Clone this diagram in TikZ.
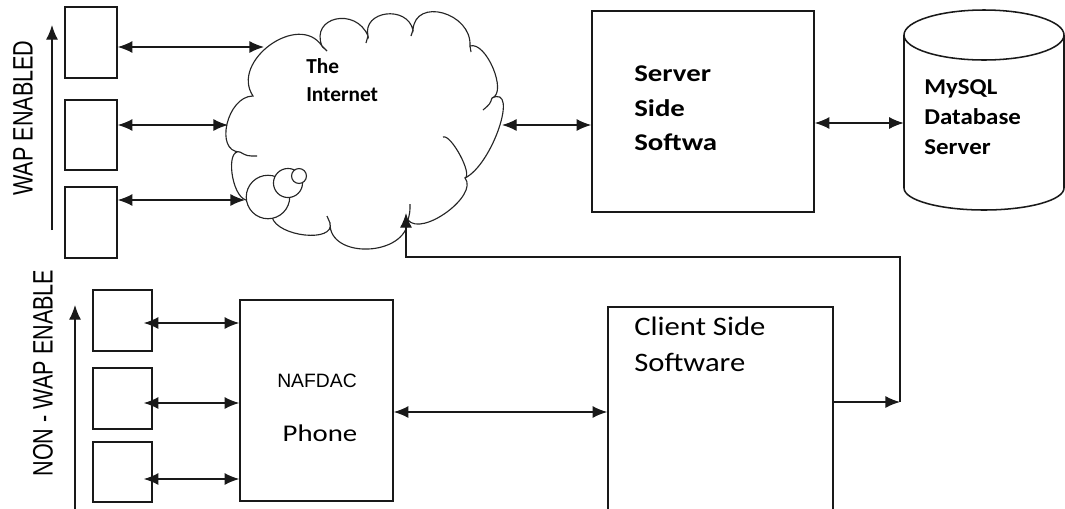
\documentclass[tikz,border=0pt]{standalone}
\usepackage{fontspec}
\newfontfamily\carl{Carlito}
\newfontfamily\arialf{Liberation Sans}
\usetikzlibrary{arrows.meta,calc}
\begin{document}
\begin{tikzpicture}[x=0.75pt,y=-0.75pt,
  box/.style={draw=black!90, line width=1.15pt, inner sep=0pt, fill=white},
  conn/.style={draw=black!90, line width=1pt},
  dbl/.style={conn, {Latex[length=11pt,width=9pt]}-{Latex[length=11pt,width=9pt]}},
  arr/.style={conn, -{Latex[length=11pt,width=9pt]}},
  cl/.style={draw=black!85, line width=0.85pt},
  lbl/.style={inner sep=0pt, align=left, anchor=west},
]
\useasboundingbox (0,0) rectangle (1065,508);

% ---------- cloud ----------
\draw[cl, fill=white] (253,96)
  .. controls (229.7,61.3) and (298.7,11.3) .. (322,46)
  .. controls (310,16.7) and (356,6.7) .. (368,36)
  .. controls (362,10.7) and (407,4.7) .. (413,30)
  .. controls (415,-3.3) and (472,12.7) .. (470,46)
  .. controls (486,40.7) and (508,92.7) .. (492,98)
  .. controls (519.3,84.7) and (492.3,164.7) .. (465,178)
  .. controls (479,195.3) and (422,237.3) .. (408,220)
  .. controls (406.7,256.7) and (328.7,259.7) .. (330,223)
  .. controls (335.3,243) and (277.3,237) .. (272,217)
  -- (246,200)
  .. controls (231.3,196) and (225.3,148) .. (240,152)
  .. controls (214,152) and (227,96) .. (253,96) -- cycle;
% interior strokes of the cloud
\draw[cl] (322,46) -- (327,51);
\draw[cl] (368,36) -- (366,43);
\draw[cl] (413,30) -- (411,36);
\draw[cl] (470,46) -- (471,52);
\draw[cl] (492,98) .. controls (490,104) .. (483,110);
\draw[cl] (443,137) .. controls (451,133.7) and (473,174.7) .. (465,178);
\draw[cl] (408,220) .. controls (410,212) .. (410,204);
\draw[cl] (330,223) -- (327,216);
\draw[cl] (240,152) .. controls (247,156) .. (257,156);
% bubbles
\draw[cl, fill=white] (268,197) circle[radius=16.3pt];
\draw[cl, fill=white] (288,183) circle[radius=10.9pt];
\draw[cl, fill=white] (299,176) circle[radius=5.6pt];

\node[lbl, font={\carl\bfseries\fontsize{16pt}{21pt}\selectfont}] (inet) at (306,80) {The\\Internet};

% cloud connection points
\coordinate (c1) at (264,47);
\coordinate (c2) at (228,125);
\coordinate (c3) at (245,200);
\coordinate (cR) at (502,125);
\coordinate (cB) at (406,213);

% ---------- WAP enabled ----------
\node[box, minimum width=39pt, minimum height=53.25pt] (w1) at (91,42.5) {};
\node[box, minimum width=39pt, minimum height=52.5pt] (w2) at (91,135) {};
\node[box, minimum width=39pt, minimum height=53.25pt] (w3) at (91,222.5) {};
\draw[dbl] (w1.east |- c1) -- (c1);
\draw[dbl] (w2.east |- c2) -- (c2);
\draw[dbl] (w3.east |- c3) -- (c3);
\coordinate (wa0) at (52,230);
\coordinate (wa1) at (52,25);
\draw[arr] (wa0) -- (wa1);
\node[inner sep=0pt, font={\arialf\fontsize{16.2pt}{19pt}\selectfont}, rotate=90, yscale=1.3] (wapl) at (23,118) {WAP ENABLED};

% ---------- server ----------
\node[box, minimum width=166.5pt, minimum height=150.75pt] (srv) at (703,111.5) {};
\node[lbl, font={\carl\bfseries\fontsize{18pt}{26pt}\selectfont}, xscale=1.2] (srvt) at (634,108.5) {Server\\Side\\Softwa};
\draw[dbl] (cR) -- (cR -| srv.west);

% ---------- database ----------
\draw[box] (904,35) -- (904,188) .. controls (904,200.2) and (939.8,210) .. (984,210)
  .. controls (1028.2,210) and (1064,200.2) .. (1064,188) -- (1064,35);
\draw[box] (984,35) ellipse[x radius=60pt, y radius=18.75pt];
\node[inner sep=0pt, minimum width=120pt, minimum height=100pt] (db) at (984,123) {};
\node[lbl, font={\carl\bfseries\fontsize{17pt}{22.5pt}\selectfont}, xscale=1.1] (dbt) at (924,117) {MySQL\\Database\\Server};
\draw[dbl] (srv.east |- db.west) -- (db.west);

% ---------- non-WAP ----------
\node[box, minimum width=44.25pt, minimum height=45.75pt] (n1) at (122.5,320.5) {};
\node[box, minimum width=44.25pt, minimum height=45.75pt] (n2) at (122.5,398.5) {};
\node[box, minimum width=44.25pt, minimum height=45pt] (n3) at (122.5,472) {};
\node[box, minimum width=114.75pt, minimum height=150.75pt] (ph) at (316.5,400.5) {};
\node[inner sep=0pt, font={\arialf\fontsize{14.5pt}{17pt}\selectfont}] (nafdac) at (317,381) {NAFDAC};
\node[inner sep=0pt, font={\carl\fontsize{18pt}{22pt}\selectfont}, xscale=1.2] (phone) at (320,433) {Phone};
\coordinate (ya) at (0,323);
\coordinate (yb) at (0,403);
\coordinate (yc) at (0,479);
\draw[dbl] ($(n1.east |- ya)+(-9,0)$) -- (ph.west |- ya);
\draw[dbl] ($(n2.east |- yb)+(-9,0)$) -- (ph.west |- yb);
\draw[dbl] ($(n3.east |- yc)+(-9,0)$) -- (ph.west |- yc);
\coordinate (na0) at (75,510);
\coordinate (na1) at (75,305);
\draw[arr] (na0) -- (na1);
\node[inner sep=0pt, font={\arialf\fontsize{16.2pt}{19pt}\selectfont}, rotate=90, yscale=1.3] (nwapl) at (43,373) {NON - WAP ENABLE};

% ---------- client ----------
\node[box, minimum width=168.75pt, minimum height=153.75pt] (cli) at (720.5,409.5) {};
\node[lbl, font={\carl\fontsize{20pt}{27pt}\selectfont}, xscale=1.15] (clit) at (634,344) {Client Side\\Software};
\coordinate (pc) at (0,412);
\draw[dbl] (ph.east |- pc) -- (cli.west |- pc);
\coordinate (r1) at (900,402);
\coordinate (r2) at (900,257);
\draw[arr] (cli.east |- r1) -- (r1);
\draw[arr] (r1) -- (r2) -- (r2 -| cB) -- (cB);
\end{tikzpicture}
\end{document}
